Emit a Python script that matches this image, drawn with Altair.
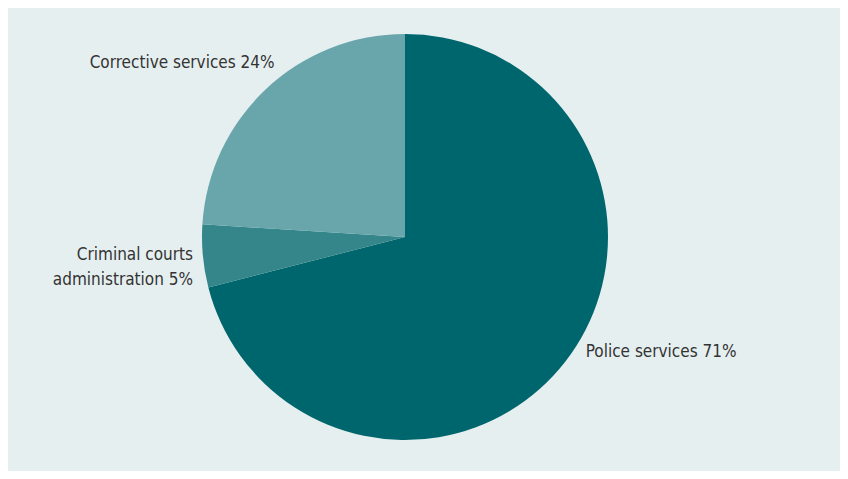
import altair as alt
import pandas as pd

categories = ["Police services", "Criminal courts administration", "Corrective services"]
shares = [71, 5, 24]
labels = ["Police services 71%", "Criminal courts\nadministration 5%", "Corrective services 24%"]
colors = ["#00666d", "#34868a", "#68a6ab"]
order = [0, 1, 2]

df = pd.DataFrame({"category": categories, "share": shares, "label": labels, "order": order})

CX, CY, R = 397, 229, 203
FONT = "Liberation Sans Narrow, DejaVu Sans Condensed, Roboto, sans-serif"

pie = alt.Chart(df).mark_arc(radius=R).encode(
    theta=alt.Theta("share:Q", stack=True),
    order=alt.Order("order:Q"),
    color=alt.Color("category:N", scale=alt.Scale(domain=categories, range=colors), legend=None),
    x=alt.value(CX),
    y=alt.value(CY),
)

lab_base = alt.Chart(df).transform_window(
    cum="sum(share)", sort=[alt.SortField("order")]
).transform_calculate(mid="datum.cum - datum.share / 2")


def label_layer(cat, align, dx, dy):
    return lab_base.transform_filter(alt.datum.category == cat).mark_text(
        radius=230, align=align, baseline="middle", dx=dx, dy=dy,
        font=FONT, fontSize=17, color="#333333", lineBreak="\n", lineHeight=25,
    ).encode(
        theta=alt.Theta("mid:Q", scale=alt.Scale(domain=[0, 100])),
        text="label:N",
        x=alt.value(CX),
        y=alt.value(CY),
    )


chart = alt.layer(
    pie,
    label_layer("Corrective services", "right", 27, -6),
    label_layer("Criminal courts administration", "right", 17, -4),
    label_layer("Police services", "left", -1, -26),
).properties(
    width=832, height=463, padding=0, background="#e6eff0",
    autosize=alt.AutoSizeParams(type="none"),
).configure_view(stroke=None)

chart.save("out.html", embed_options={"renderer": "svg", "actions": False})
